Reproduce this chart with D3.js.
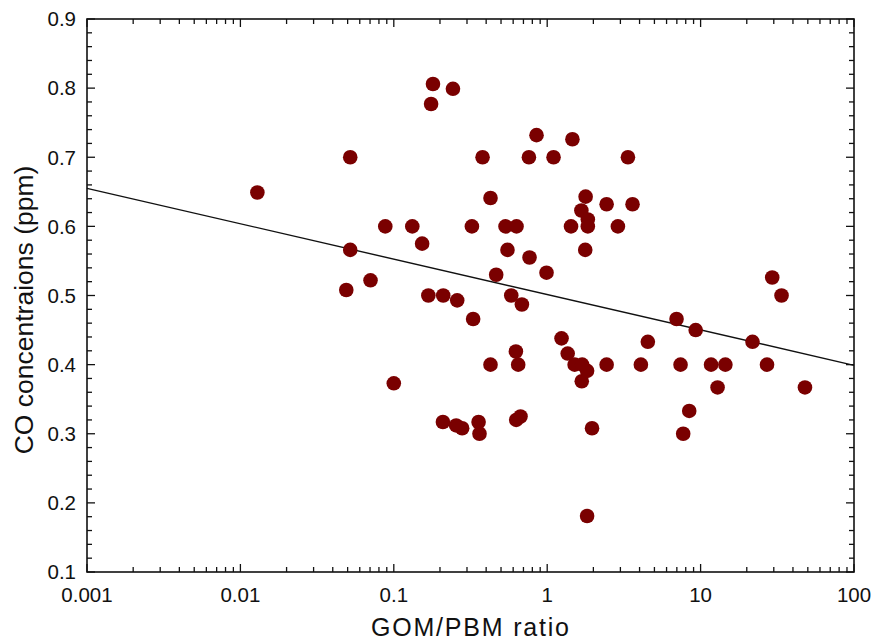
<!DOCTYPE html>
<html>
<head>
<meta charset="utf-8">
<script src="https://cdn.jsdelivr.net/npm/d3@7"></script>
<style>
  body { margin: 0; background: #fff; }
  svg text { font-family: "Liberation Sans", Arial, sans-serif; fill: #111; }
</style>
</head>
<body>
<div id="chart"></div>
<script>
// GOM/PBM ratio (x) and CO concentration in ppm (y)
const ratio = [
  0.0129, 0.052, 0.052, 0.049, 0.0705, 0.088, 0.100, 0.132, 0.153, 0.168,
  0.175, 0.180, 0.210, 0.209, 0.243, 0.259, 0.255, 0.279, 0.323, 0.329,
  0.357, 0.362, 0.379, 0.427, 0.427, 0.465, 0.535, 0.551, 0.583, 0.631,
  0.628, 0.670, 0.684, 0.625, 0.647, 0.760, 0.767, 0.852, 0.990, 1.10,
  1.24, 1.36, 1.43, 1.46, 1.51, 1.67, 1.69, 1.68, 1.78, 1.77,
  1.84, 1.84, 1.82, 1.82, 1.96, 2.44, 2.44, 2.89, 3.36, 3.60,
  4.08, 4.53, 6.97, 7.40, 7.70, 8.43, 9.29, 11.7, 12.9, 14.5,
  21.8, 27.1, 29.3, 33.7, 47.9
];
const co = [
  0.649, 0.700, 0.566, 0.508, 0.522, 0.600, 0.373, 0.600, 0.575, 0.500,
  0.777, 0.806, 0.500, 0.317, 0.799, 0.493, 0.312, 0.308, 0.600, 0.466,
  0.317, 0.300, 0.700, 0.641, 0.400, 0.530, 0.600, 0.566, 0.500, 0.600,
  0.320, 0.325, 0.487, 0.419, 0.400, 0.700, 0.555, 0.732, 0.533, 0.700,
  0.438, 0.416, 0.600, 0.726, 0.400, 0.623, 0.400, 0.376, 0.643, 0.566,
  0.610, 0.600, 0.391, 0.181, 0.308, 0.632, 0.400, 0.600, 0.700, 0.632,
  0.400, 0.433, 0.466, 0.400, 0.300, 0.333, 0.450, 0.400, 0.367, 0.400,
  0.433, 0.400, 0.526, 0.500, 0.367
];

// fitted trend line end points
const fitX = [0.001, 100];
const fitY = [0.655, 0.399];

const xDecades = [0.001, 0.01, 0.1, 1, 10, 100];
const xLabels = ["0.001", "0.01", "0.1", "1", "10", "100"];
const yTicks = [0.1, 0.2, 0.3, 0.4, 0.5, 0.6, 0.7, 0.8, 0.9];

const width = 874, height = 643;
const margin = { top: 19, right: 20, bottom: 71, left: 87 };

const svg = d3.select("#chart").append("svg")
  .attr("width", width)
  .attr("height", height);

const x = d3.scaleLog()
  .domain([0.001, 100])
  .range([margin.left, width - margin.right]);

const y = d3.scaleLinear()
  .domain([0.1, 0.9])
  .range([height - margin.bottom, margin.top]);

// minor ticks
const xMinor = [];
xDecades.slice(0, -1).forEach(d => {
  for (let k = 2; k <= 9; k++) xMinor.push(d * k);
});
const yMinor = d3.range(0.1, 0.9001, 0.02).filter(v => Math.abs(v * 10 - Math.round(v * 10)) > 1e-6);

const x0 = margin.left, x1 = width - margin.right;
const y0 = height - margin.bottom, y1 = margin.top;

const ticks = svg.append("g").attr("stroke", "#111").attr("stroke-width", 1.3);

// bottom and top ticks (inward)
ticks.selectAll(".xmaj").data(xDecades).join("line")
  .attr("x1", d => x(d)).attr("x2", d => x(d))
  .attr("y1", y0).attr("y2", y0 - 8);
ticks.selectAll(".xmajt").data(xDecades).join("line")
  .attr("x1", d => x(d)).attr("x2", d => x(d))
  .attr("y1", y1).attr("y2", y1 + 8);
ticks.selectAll(".xmin").data(xMinor).join("line")
  .attr("x1", d => x(d)).attr("x2", d => x(d))
  .attr("y1", y0).attr("y2", y0 - 5);
ticks.selectAll(".xmint").data(xMinor).join("line")
  .attr("x1", d => x(d)).attr("x2", d => x(d))
  .attr("y1", y1).attr("y2", y1 + 5);

// left and right ticks (inward)
ticks.selectAll(".ymaj").data(yTicks).join("line")
  .attr("x1", x0).attr("x2", x0 + 8)
  .attr("y1", d => y(d)).attr("y2", d => y(d));
ticks.selectAll(".ymajr").data(yTicks).join("line")
  .attr("x1", x1).attr("x2", x1 - 8)
  .attr("y1", d => y(d)).attr("y2", d => y(d));
ticks.selectAll(".ymin").data(yMinor).join("line")
  .attr("x1", x0).attr("x2", x0 + 5)
  .attr("y1", d => y(d)).attr("y2", d => y(d));
ticks.selectAll(".yminr").data(yMinor).join("line")
  .attr("x1", x1).attr("x2", x1 - 5)
  .attr("y1", d => y(d)).attr("y2", d => y(d));

// frame
svg.append("rect")
  .attr("x", x0).attr("y", y1)
  .attr("width", x1 - x0).attr("height", y0 - y1)
  .attr("fill", "none").attr("stroke", "#111").attr("stroke-width", 1.6);

// tick labels
svg.append("g").selectAll("text").data(xDecades).join("text")
  .attr("x", d => x(d))
  .attr("y", y0 + 30)
  .attr("text-anchor", "middle")
  .attr("font-size", "20.5px")
  .text((d, i) => xLabels[i]);

svg.append("g").selectAll("text").data(yTicks).join("text")
  .attr("x", x0 - 11)
  .attr("y", d => y(d) + 7.3)
  .attr("text-anchor", "end")
  .attr("font-size", "20.5px")
  .text(d => d3.format(".1f")(d));

// axis titles
svg.append("text")
  .attr("x", 470)
  .attr("y", 636)
  .attr("text-anchor", "middle")
  .attr("font-size", "25px")
  .attr("textLength", 198)
  .text("GOM/PBM ratio");

svg.append("text")
  .attr("transform", `translate(32.5, 310) rotate(-90)`)
  .attr("text-anchor", "middle")
  .attr("font-size", "26.5px")
  .text("CO concentraions (ppm)");

// trend line
svg.append("path")
  .datum(fitX.map((d, i) => [d, fitY[i]]))
  .attr("fill", "none")
  .attr("stroke", "#111")
  .attr("stroke-width", 1.4)
  .attr("d", d3.line().x(d => x(d[0])).y(d => y(d[1])));

// points
svg.append("g")
  .attr("fill", "#7a0000")
  .selectAll("circle")
  .data(ratio.map((d, i) => ({ r: d, c: co[i] })))
  .join("circle")
  .attr("cx", d => x(d.r))
  .attr("cy", d => y(d.c))
  .attr("r", 7.3);
</script>
</body>
</html>
